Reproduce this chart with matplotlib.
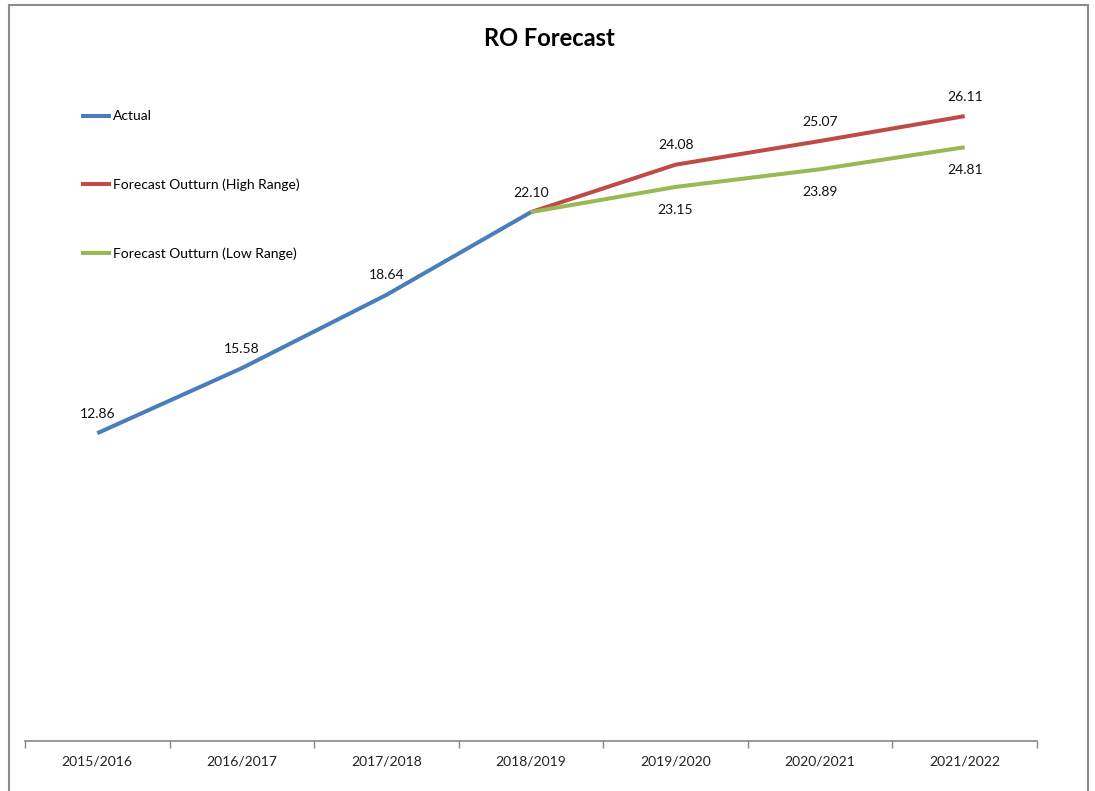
import numpy as np
import matplotlib
matplotlib.use("Agg")
import matplotlib.pyplot as plt
from matplotlib.lines import Line2D

plt.rcParams['font.family'] = ['Lato', 'DejaVu Sans']

# data
years = ["2015/2016", "2016/2017", "2017/2018", "2018/2019",
         "2019/2020", "2020/2021", "2021/2022"]
actual = [12.86, 15.58, 18.64, 22.10, np.nan, np.nan, np.nan]
high = [np.nan, np.nan, np.nan, 22.10, 24.08, 25.07, 26.11]
low = [np.nan, np.nan, np.nan, 22.10, 23.15, 23.89, 24.81]

c_act = "#4A7EBB"
c_high = "#BE4B48"
c_low = "#98B954"

fig = plt.figure(figsize=(10.95, 7.91), dpi=100)
ax = fig.add_axes([25 / 1095, 50 / 791, (1037 - 25) / 1095, 1 - 73 / 791])

x = np.arange(len(years))
ax.plot(x, actual, color=c_act, lw=2.9, label="Actual", solid_capstyle="butt")
ax.plot(x, high, color=c_high, lw=2.9, label="Forecast Outturn (High Range)", solid_capstyle="butt")
ax.plot(x, low, color=c_low, lw=2.9, label="Forecast Outturn (Low Range)", solid_capstyle="butt")

# data labels
for i, v in enumerate(actual):
    if not np.isnan(v):
        ax.annotate("%.2f" % v, (i, v), xytext=(0, 14), textcoords="offset points",
                    ha="center", va="center", fontsize=10, color="#111111")
for i, v in enumerate(high):
    if i > 3:
        ax.annotate("%.2f" % v, (i, v), xytext=(0, 14), textcoords="offset points",
                    ha="center", va="center", fontsize=10, color="#111111")
for i, v in enumerate(low):
    if i > 3:
        ax.annotate("%.2f" % v, (i, v), xytext=(0, -16.5), textcoords="offset points",
                    ha="center", va="center", fontsize=10, color="#111111")

ax.set_xlim(-0.5, len(years) - 0.5)
ax.set_ylim(0, 30)
ax.set_xticks(np.arange(-0.5, len(years), 1.0))
ax.set_xticklabels([])
ax.set_xticks(x, minor=True)
ax.set_xticklabels(years, minor=True, fontsize=10, color="#222222")
ax.tick_params(axis="x", which="major", length=5, color="#868686", width=1)
ax.tick_params(axis="x", which="minor", length=0, pad=10.5)
ax.set_yticks([])
for s in ["left", "right", "top"]:
    ax.spines[s].set_visible(False)
ax.spines["bottom"].set_color("#868686")
ax.spines["bottom"].set_linewidth(1.2)

fig.text(549 / 1095, 1 - 38 / 791, "RO Forecast", ha="center", va="center",
         fontsize=17, fontweight="bold")

leg = fig.legend(loc="upper left", bbox_to_anchor=(68 / 1095, 1 - 98 / 791),
                 frameon=False, fontsize=10, handlelength=2.2, handletextpad=0.15,
                 labelspacing=4.05)

# chart border
for xs, ys in [([9, 9], [791, 5]), ([9, 1088], [5, 5]), ([1088, 1088], [5, 791])]:
    fig.add_artist(Line2D([v / 1095 for v in xs], [1 - v / 791 for v in ys],
                          color="#8c8c8c", lw=1.5))

fig.savefig("out.png", dpi=100)
